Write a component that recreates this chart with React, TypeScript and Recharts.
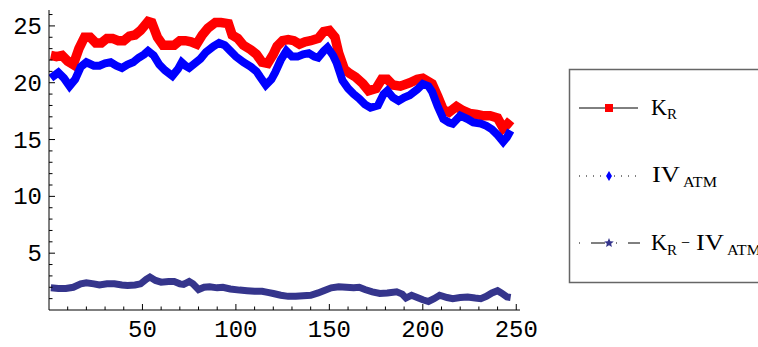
import React from 'react';
import { LineChart, Line, XAxis, YAxis } from 'recharts';

// K_R (red squares)
const krX = [1, 4, 7, 10, 13, 16, 19, 22, 25, 28, 31, 34, 37, 40, 43, 46, 49, 53, 55, 58, 61, 64, 67, 70, 73, 76, 79, 82, 85, 89, 92, 96, 98, 101, 104, 108, 111, 114, 117, 120, 122, 125, 128, 131, 134, 137, 140, 144, 147, 150, 153, 155, 158, 161, 164, 168, 171, 175, 178, 181, 184, 188, 193, 197, 200, 203, 205, 208, 211, 214, 218, 221, 225, 229, 232, 236, 240, 243, 245, 247];
const krY = [22.4, 22.3, 22.4, 21.9, 21.6, 23.0, 24.0, 24.0, 23.5, 23.5, 23.9, 23.9, 23.7, 23.7, 24.1, 24.2, 24.6, 25.4, 25.3, 24.0, 23.3, 23.3, 23.3, 23.7, 23.7, 23.6, 23.4, 24.2, 24.8, 25.3, 25.3, 25.2, 24.2, 23.9, 23.3, 22.9, 22.5, 21.8, 21.7, 22.5, 23.2, 23.7, 23.8, 23.7, 23.4, 23.6, 23.7, 23.9, 24.5, 24.6, 24.0, 22.6, 21.2, 20.8, 20.5, 19.9, 19.3, 19.5, 20.3, 20.3, 19.8, 19.7, 20.0, 20.3, 20.4, 20.1, 19.9, 18.8, 17.6, 17.4, 17.9, 17.6, 17.3, 17.2, 17.1, 17.1, 16.9, 16.0, 16.3, 16.7];

// IV_ATM (blue diamonds)
const ivX = [1, 5, 8, 11, 14, 17, 20, 24, 27, 30, 33, 36, 39, 42, 45, 48, 51, 53, 56, 59, 62, 66, 69, 71, 73, 75, 78, 81, 84, 88, 91, 94, 97, 100, 104, 108, 111, 113, 116, 119, 121, 124, 127, 130, 133, 136, 139, 142, 144, 147, 149, 152, 154, 157, 160, 163, 166, 169, 172, 176, 179, 181, 184, 187, 190, 193, 197, 200, 203, 205, 208, 211, 214, 216, 220, 224, 227, 231, 234, 237, 240, 243, 245, 247];
const ivY = [20.4, 20.9, 20.4, 19.7, 20.3, 21.4, 21.8, 21.5, 21.5, 21.7, 21.8, 21.5, 21.3, 21.6, 21.8, 22.2, 22.5, 22.8, 22.4, 21.6, 21.1, 20.6, 21.2, 21.8, 21.5, 21.3, 21.7, 22.1, 22.7, 23.2, 23.5, 23.3, 22.8, 22.3, 21.8, 21.4, 21.0, 20.5, 19.8, 20.3, 20.9, 22.0, 22.8, 22.3, 22.3, 22.5, 22.6, 22.3, 22.2, 22.8, 23.1, 22.4, 21.7, 20.2, 19.5, 19.0, 18.6, 18.1, 17.8, 18.0, 19.0, 19.3, 18.7, 18.4, 18.7, 18.9, 19.4, 19.9, 19.7, 19.2, 17.9, 16.8, 16.5, 16.4, 17.1, 16.8, 16.5, 16.4, 16.2, 15.9, 15.4, 14.8, 15.2, 15.8];

// K_R - IV_ATM (stars)
const dfX = [1, 5, 9, 13, 17, 20, 24, 27, 31, 35, 39, 42, 46, 49, 52, 54, 57, 60, 64, 67, 70, 72, 75, 77, 80, 83, 86, 90, 93, 97, 102, 106, 110, 114, 117, 120, 124, 128, 132, 136, 140, 144, 147, 151, 155, 159, 163, 166, 169, 173, 177, 181, 186, 189, 191, 194, 197, 200, 203, 206, 209, 213, 216, 220, 224, 228, 231, 234, 237, 240, 242, 245, 247];
const dfY = [1.95, 1.9, 1.9, 2.0, 2.3, 2.4, 2.3, 2.2, 2.3, 2.3, 2.2, 2.15, 2.2, 2.3, 2.7, 2.9, 2.6, 2.45, 2.5, 2.5, 2.3, 2.25, 2.5, 2.3, 1.8, 2.0, 2.05, 1.95, 2.0, 1.85, 1.75, 1.7, 1.65, 1.65, 1.55, 1.45, 1.3, 1.2, 1.2, 1.25, 1.3, 1.5, 1.7, 1.95, 2.05, 2.0, 1.95, 2.0, 1.8, 1.6, 1.45, 1.5, 1.6, 1.4, 1.05, 1.3, 1.1, 0.9, 0.75, 1.0, 1.3, 1.1, 1.0, 1.1, 1.15, 1.05, 1.0, 1.2, 1.5, 1.7, 1.5, 1.15, 1.1];

const xTicks = [10, 20, 30, 40, 50, 60, 70, 80, 90, 100, 110, 120, 130, 140, 150, 160, 170, 180, 190, 200, 210, 220, 230, 240, 250];
const xLabels = [50, 100, 150, 200, 250];
const yTicks = [1, 2, 3, 4, 5, 6, 7, 8, 9, 10, 11, 12, 13, 14, 15, 16, 17, 18, 19, 20, 21, 22, 23, 24, 25, 26];
const yLabels = [5, 10, 15, 20, 25];

const RED = '#ff0000';
const BLUE = '#0000ff';
const SLATE = '#35358c';
const AXIS_FONT = '"Liberation Mono", monospace';
const LEGEND_FONT = '"Liberation Serif", serif';

const toPoints = (xs: number[], ys: number[]) => xs.map((x, i) => ({ x, y: ys[i] }));

const XTick = (props: any) => {
  const { x, y, payload } = props;
  const major = xLabels.includes(payload.value);
  return (
    <g>
      <line x1={x} x2={x} y1={y} y2={y - (major ? 6 : 3.5)} stroke="#000" />
      {major && (
        <text x={x} y={y + 27} textAnchor="middle" fontFamily={AXIS_FONT} fontSize={24} fill="#000">
          {payload.value}
        </text>
      )}
    </g>
  );
};

const YTick = (props: any) => {
  const { x, y, payload } = props;
  const major = yLabels.includes(payload.value);
  return (
    <g>
      <line x1={x} x2={x + (major ? 6 : 3.5)} y1={y} y2={y} stroke="#000" />
      {major && (
        <text x={x - 7} y={y + 8} textAnchor="end" fontFamily={AXIS_FONT} fontSize={24} fill="#000">
          {payload.value}
        </text>
      )}
    </g>
  );
};

const Star = ({ cx, cy, r }: { cx: number; cy: number; r: number }) => {
  const pts: string[] = [];
  for (let i = 0; i < 10; i++) {
    const a = -Math.PI / 2 + (i * Math.PI) / 5;
    const rr = i % 2 === 0 ? r : r * 0.45;
    pts.push(`${cx + rr * Math.cos(a)},${cy + rr * Math.sin(a)}`);
  }
  return <polygon points={pts.join(' ')} fill={SLATE} />;
};

const LegendBox = () => (
  <svg width={758} height={347} style={{ position: 'absolute', left: 0, top: 0, pointerEvents: 'none' }}>
    <rect x={569.5} y={69.5} width={220} height={213} fill="#fff" stroke="#666" strokeWidth={1.5} />
    {/* K_R */}
    <line x1={579} x2={638} y1={108} y2={108} stroke="#000" />
    <rect x={605} y={104} width={8} height={8} fill={RED} />
    <g fontFamily={LEGEND_FONT} fill="#000">
      <text x={651} y={115} fontSize={23} textLength={16} lengthAdjust="spacingAndGlyphs">K</text>
      <text x={667} y={119} fontSize={15} textLength={10} lengthAdjust="spacingAndGlyphs">R</text>
    </g>
    {/* IV_ATM */}
    <line x1={579} x2={638} y1={176} y2={176} stroke="#000" strokeDasharray="1 6" />
    <polygon points="609,171 612,176 609,181 606,176" fill={BLUE} />
    <g fontFamily={LEGEND_FONT} fill="#000">
      <text x={652} y={182} fontSize={23} textLength={28} lengthAdjust="spacingAndGlyphs">IV</text>
      <text x={683} y={187} fontSize={15} textLength={34} lengthAdjust="spacingAndGlyphs">ATM</text>
    </g>
    {/* K_R - IV_ATM */}
    <line x1={579} x2={640} y1={243} y2={243} stroke="#000" strokeDasharray="1 11 14 11" />
    <Star cx={609} cy={243} r={5} />
    <g fontFamily={LEGEND_FONT} fill="#000">
      <text x={651} y={250} fontSize={23} textLength={16} lengthAdjust="spacingAndGlyphs">K</text>
      <text x={667} y={255} fontSize={15} textLength={10} lengthAdjust="spacingAndGlyphs">R</text>
      <text x={681} y={248} fontSize={16}>{'\u2212'}</text>
      <text x={696} y={250} fontSize={23} textLength={28} lengthAdjust="spacingAndGlyphs">IV</text>
      <text x={727} y={255} fontSize={15} textLength={34} lengthAdjust="spacingAndGlyphs">ATM</text>
    </g>
  </svg>
);

export default function App() {
  return (
    <div style={{ position: 'absolute', left: 0, top: 0, width: 758, height: 347, background: '#fff', overflow: 'hidden' }}>
      <LineChart width={758} height={347} margin={{ top: 10, right: 238, bottom: 0, left: 0 }}>
        <XAxis
          type="number"
          dataKey="x"
          domain={[0, 252]}
          ticks={xTicks}
          interval={0}
          tick={<XTick />}
          tickLine={false}
          tickSize={0}
          tickMargin={0}
          height={37}
          stroke="#000"
          allowDataOverflow
        />
        <YAxis
          type="number"
          dataKey="y"
          domain={[0, 26.4]}
          ticks={yTicks}
          interval={0}
          tick={<YTick />}
          tickLine={false}
          tickSize={0}
          tickMargin={0}
          width={49}
          stroke="#000"
          allowDataOverflow
        />
        <Line data={toPoints(krX, krY)} dataKey="y" type="linear" stroke={RED} strokeWidth={9.5} dot={false} isAnimationActive={false} />
        <Line data={toPoints(ivX, ivY)} dataKey="y" type="linear" stroke={BLUE} strokeWidth={8} dot={false} isAnimationActive={false} />
        <Line data={toPoints(dfX, dfY)} dataKey="y" type="linear" stroke={SLATE} strokeWidth={7} dot={false} isAnimationActive={false} />
      </LineChart>
      <LegendBox />
    </div>
  );
}
